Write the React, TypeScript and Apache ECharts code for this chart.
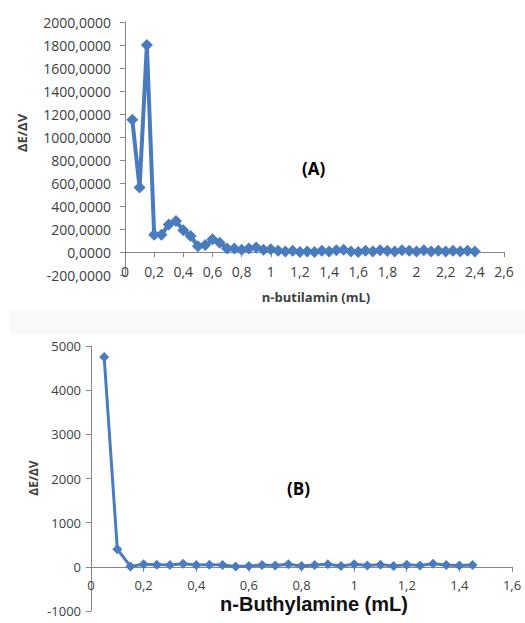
import React, { useEffect, useRef } from "react";
import * as echarts from "echarts";

const volumeA = [
  0.05, 0.1, 0.15, 0.2, 0.25, 0.3, 0.35, 0.4, 0.45, 0.5, 0.55, 0.6, 0.65, 0.7, 0.75, 0.8,
  0.85, 0.9, 0.95, 1.0, 1.05, 1.1, 1.15, 1.2, 1.25, 1.3, 1.35, 1.4, 1.45, 1.5, 1.55, 1.6,
  1.65, 1.7, 1.75, 1.8, 1.85, 1.9, 1.95, 2.0, 2.05, 2.1, 2.15, 2.2, 2.25, 2.3, 2.35, 2.4,
];
const dEdVA = [
  1150, 560, 1800, 150, 150, 240, 270, 190, 140, 50, 60, 110, 80, 30, 30, 20,
  30, 40, 20, 25, 10, 5, 10, 0, 5, 0, 10, 5, 15, 20, 5, 0,
  10, 5, 15, 10, 5, 15, 10, 5, 15, 5, 10, 5, 10, 5, 10, 5,
];

const volumeB = [
  0.05, 0.1, 0.15, 0.2, 0.25, 0.3, 0.35, 0.4, 0.45, 0.5, 0.55, 0.6, 0.65, 0.7, 0.75,
  0.8, 0.85, 0.9, 0.95, 1.0, 1.05, 1.1, 1.15, 1.2, 1.25, 1.3, 1.35, 1.4, 1.45,
];
const dEdVB = [
  4750, 400, 10, 60, 50, 40, 70, 40, 50, 40, 10, 20, 40, 30, 60,
  20, 40, 60, 20, 60, 30, 50, 20, 50, 30, 70, 40, 30, 40,
];

const titleA = "(A)";
const titleB = "(B)";
const xNameA = "n-butilamin (mL)";
const xNameB = "n-Buthylamine (mL)";
const yName = "ΔE/ΔV";

const BLUE = "#4a7bbf";
const AXIS = "#868686";
const LABEL = "#404040";
const FONT = "'Open Sans', 'Liberation Sans', sans-serif";

const fmtX = (v: number) => String(Number(v.toFixed(1))).replace(".", ",");

// layout of the two plot areas
const gA = { left: 125, top: 22, width: 379, height: 253 };
const gB = { left: 91, top: 346, width: 421, height: 265 };
const yA = { min: -200, max: 2000 };
const yB = { min: -1000, max: 5000 };
// distance from grid bottom to the zero line (x axis drawn on zero)
const zeroOffset = (g: { height: number }, y: { min: number; max: number }) =>
  (g.height * (0 - y.min)) / (y.max - y.min);

export default function App() {
  const ref = useRef<HTMLDivElement>(null);
  useEffect(() => {
    if (!ref.current) return;
    const chart = echarts.init(ref.current, undefined, { renderer: "svg" });
    const axisTick = { show: true, length: 5, lineStyle: { color: AXIS } };
    chart.setOption({
      animation: false,
      backgroundColor: "#ffffff",
      grid: [gA, gB],
      xAxis: [
        {
          type: "value", gridIndex: 0, min: 0, max: 2.6, interval: 0.2,
          position: "bottom", offset: -zeroOffset(gA, yA),
          axisLine: { show: true, onZero: false, lineStyle: { color: AXIS, width: 1 } },
          axisTick, splitLine: { show: false },
          axisLabel: { formatter: fmtX, color: LABEL, fontSize: 14, fontFamily: FONT, margin: 12 },
        },
        {
          type: "value", gridIndex: 1, min: 0, max: 1.6, interval: 0.2,
          position: "bottom", offset: -zeroOffset(gB, yB),
          axisLine: { show: true, onZero: false, lineStyle: { color: AXIS, width: 1 } },
          axisTick, splitLine: { show: false },
          axisLabel: { formatter: fmtX, color: LABEL, fontSize: 13, fontFamily: FONT, margin: 12 },
        },
      ],
      yAxis: [
        {
          type: "value", gridIndex: 0, min: yA.min, max: yA.max, interval: 200,
          axisLine: { show: true, onZero: false, lineStyle: { color: AXIS, width: 1 } },
          axisTick, splitLine: { show: false },
          axisLabel: {
            formatter: (v: number) => v.toFixed(4).replace(".", ","),
            color: LABEL, fontSize: 14, fontFamily: FONT, margin: 14,
          },
        },
        {
          type: "value", gridIndex: 1, min: yB.min, max: yB.max, interval: 1000,
          axisLine: { show: true, onZero: false, lineStyle: { color: AXIS, width: 1 } },
          axisTick, splitLine: { show: false },
          axisLabel: {
            formatter: (v: number) => String(v),
            color: LABEL, fontSize: 13, fontFamily: FONT, margin: 10,
          },
        },
      ],
      series: [
        {
          type: "line", xAxisIndex: 0, yAxisIndex: 0,
          data: volumeA.map((x, i) => [x, dEdVA[i]]),
          symbol: "diamond", symbolSize: 12,
          lineStyle: { color: BLUE, width: 4 },
          itemStyle: { color: BLUE },
        },
        {
          type: "line", xAxisIndex: 1, yAxisIndex: 1,
          data: volumeB.map((x, i) => [x, dEdVB[i]]),
          symbol: "diamond", symbolSize: 10,
          lineStyle: { color: BLUE, width: 3 },
          itemStyle: { color: BLUE },
        },
      ],
      graphic: [
        {
          type: "rect", z: -10, silent: true,
          shape: { x: 10, y: 310, width: 515, height: 24 },
          style: { fill: "rgba(0,0,0,0.025)" },
        },
        {
          type: "text", left: 302, top: 160,
          style: { text: titleA, font: `bold 17px ${FONT}`, fill: "#000" },
        },
        {
          type: "text", left: 287, top: 480,
          style: { text: titleB, font: `bold 17px ${FONT}`, fill: "#000" },
        },
        {
          type: "text", x: 22, y: 133, rotation: Math.PI / 2,
          style: { text: yName, font: `bold 13px ${FONT}`, fill: LABEL, align: "center", verticalAlign: "middle" },
        },
        {
          type: "text", x: 33, y: 478, rotation: Math.PI / 2,
          style: { text: yName, font: `bold 12px ${FONT}`, fill: LABEL, align: "center", verticalAlign: "middle" },
        },
        {
          type: "text", x: 316, y: 297,
          style: { text: xNameA, font: `bold 13px ${FONT}`, fill: LABEL, align: "center", verticalAlign: "middle" },
        },
        {
          type: "text", x: 314, y: 604,
          style: { text: xNameB, font: "bold 20px 'Liberation Sans', Arial, sans-serif", fill: "#111", align: "center", verticalAlign: "middle" },
        },
      ],
    });
    return () => chart.dispose();
  }, []);
  return (
    <div
      ref={ref}
      style={{ position: "fixed", left: 0, top: 0, width: 525, height: 623 }}
    />
  );
}
